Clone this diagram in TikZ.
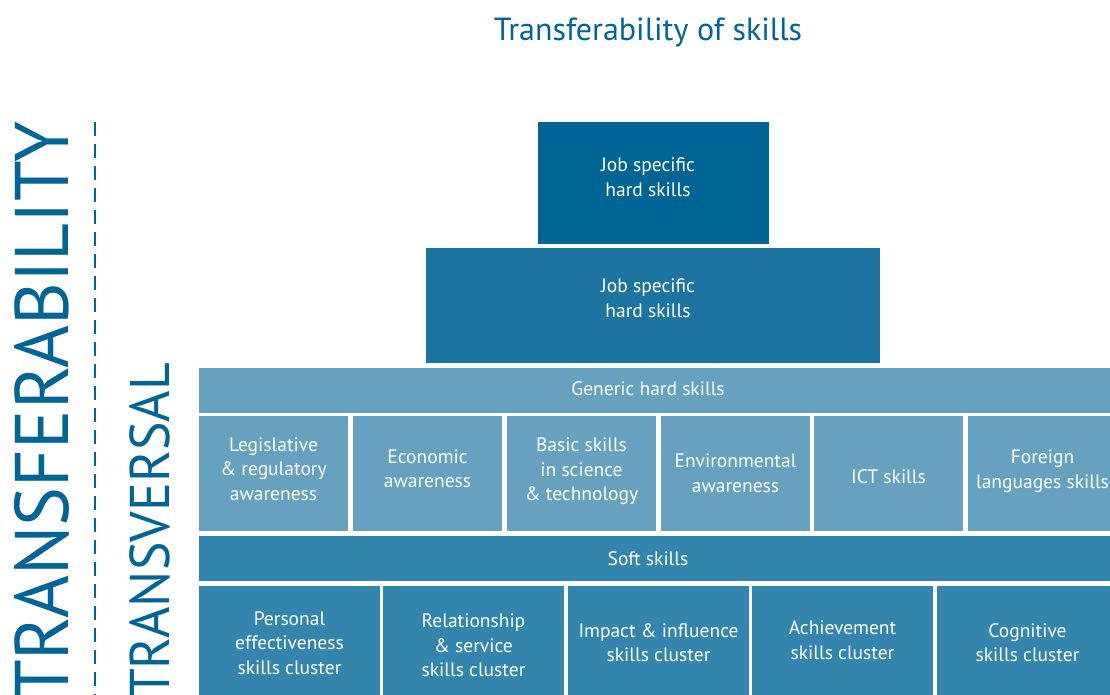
\documentclass[tikz,border=0pt]{standalone}
\usepackage{fontspec}
\setmainfont{PT Sans}
\definecolor{cTop}{RGB}{0,101,148}
\definecolor{cJob}{RGB}{28,116,160}
\definecolor{cGen}{RGB}{102,161,192}
\definecolor{cSoft}{RGB}{51,133,173}
\definecolor{cText}{RGB}{0,101,150}
\begin{document}
\begin{tikzpicture}[x=1pt,y=-1pt,
  box/.style={draw=none,inner sep=0pt,outer sep=0pt,anchor=center},
  txt/.style={text=white,align=center,font=\fontsize{19.5}{24.5}\selectfont,inner sep=0pt},
  big/.style={text=cText,inner sep=0pt,rotate=90,anchor=base east}]
\clip (0,0) rectangle (1110,695);
\useasboundingbox (0,0) rectangle (1110,695);
% title
\node[text=cText,font=\fontsize{32}{36}\selectfont,inner sep=0pt] (title) at (648,32) {Transferability of skills};
% side labels
\node[big,font=\fontsize{76}{80}\selectfont] (transf) at (68,121) {\scalebox{0.965}[1]{TRANSFERABILITY}};
\node[big,font=\fontsize{56}{60}\selectfont] (transv) at (169,363) {\scalebox{0.96}[1]{TRANSVERSAL}};
\coordinate (dtop) at (95,122);
\coordinate (dbot) at (95,700);
\draw[cText,line width=2pt,dash pattern=on 14pt off 8pt] (dtop) -- (dbot);
% pyramid top
\node[box,fill=cTop,minimum width=231pt,minimum height=122pt] (job1) at (653.5,183) {};
\node[txt] (job1t) at (648,177) {Job specific\\hard skills};
\node[box,fill=cJob,minimum width=454pt,minimum height=115pt] (job2) at (653,305.5) {};
\node[txt] (job2t) at (648,298) {Job specific\\hard skills};
% generic
\node[box,fill=cGen,minimum width=930pt,minimum height=45pt,anchor=west] (gen) at (199,390.5) {};
\node[txt] (gent) at (648,389) {Generic hard skills};
\foreach \n/\cx/\ty/\t in {g1/273.5/469/{Legislative\\\& regulatory\\awareness},
  g2/427.5/468.5/{Economic\\awareness},
  g3/581.5/471.5/{Basic skills\\in science\\\& technology},
  g4/735.5/473/{Environmental\\awareness},
  g5/888.5/477/{ICT skills},
  g6/1042.5/471/{Foreign\\languages skills}}{
  \node[box,fill=cGen,minimum width=149pt,minimum height=115pt] (\n) at (\cx,473.5) {};
  \node[txt] (\n t) at (\cx,\ty) {\t};
}
% soft
\node[box,fill=cSoft,minimum width=930pt,minimum height=45pt,anchor=west] (soft) at (199,558.5) {};
\node[txt] (softt) at (648,559) {Soft skills};
\foreach \n/\cx/\ty/\t in {s1/289.5/643/{Personal\\effectiveness\\skills cluster},
  s2/473.5/645.5/{Relationship\\\& service\\skills cluster},
  s3/658.5/642.5/{Impact \& influence\\skills cluster},
  s4/842.5/640/{Achievement\\skills cluster},
  s5/1027.5/642.5/{Cognitive\\skills cluster}}{
  \node[box,fill=cSoft,minimum width=181pt,minimum height=114pt] (\n) at (\cx,643) {};
  \node[txt] (\n t) at (\cx,\ty) {\t};
}
\end{tikzpicture}
\end{document}
